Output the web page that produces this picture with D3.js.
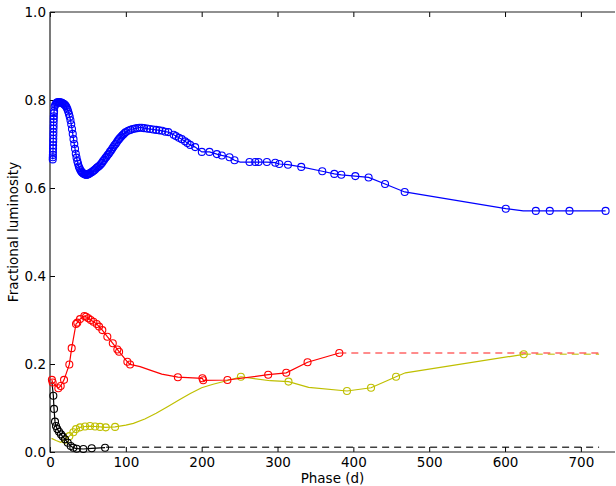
<!DOCTYPE html>
<html><head><meta charset="utf-8">
<script src="https://cdn.jsdelivr.net/npm/d3@7"></script>
<style>
body{margin:0;background:#fff;}
text{font-family:"DejaVu Sans",sans-serif;}
</style></head>
<body><svg id="c" width="616" height="486"></svg>
<script>
// ---- data (phase in days, fractional luminosity)
const bluePhase = [3.6,3.7,3.8,3.9,4.0,4.1,4.2,4.3,4.4,4.5,4.6,4.7,4.8,4.9,5.0,5.2,5.4,6,7,8,9,10,11,12,13,14,15,16,17,18,19,20,21,22,23,24,25,26,27,28,29,30,31,32,33,34,35,36,37,38,39,40,41,42,43,44,45,46,47,48,49,50,51,52,53,55,56.5,58,59.5,61,62.5,64,65.5,67,68.5,70,71.5,73,74.5,76,77.5,79,80.5,82,83.5,85,86.5,88,89.5,91,92.5,94,95.5,97,98.5,100,103,106,109,112,115,118,121,124,128,132,136,140,144,148,152,156,163,166,170,173.8,178,181.2,184.8,191.4,200.2,210.3,220,226.6,236.7,243.3,250.8,263.1,270.6,275,286,297,302.3,313.8,331.3,359,374.9,384.1,402.6,420.1,441.8,467.7,601,624,640.6,659,685,732.6];
const blueValue = [0.665,0.670,0.675,0.682,0.69,0.697,0.705,0.712,0.72,0.727,0.735,0.742,0.75,0.757,0.763,0.770,0.775,0.785,0.789,0.792,0.794,0.795,0.795,0.795,0.795,0.794,0.794,0.793,0.792,0.791,0.790,0.788,0.786,0.783,0.779,0.774,0.768,0.762,0.754,0.745,0.734,0.723,0.711,0.700,0.689,0.678,0.669,0.661,0.655,0.649,0.645,0.641,0.638,0.636,0.634,0.633,0.632,0.631,0.630,0.630,0.630,0.631,0.632,0.633,0.634,0.636,0.638,0.640,0.642,0.645,0.647,0.649,0.651,0.654,0.657,0.661,0.664,0.668,0.671,0.675,0.678,0.682,0.685,0.689,0.693,0.697,0.700,0.704,0.708,0.711,0.714,0.717,0.720,0.722,0.725,0.727,0.730,0.732,0.734,0.735,0.736,0.737,0.737,0.736,0.735,0.734,0.733,0.732,0.731,0.730,0.728,0.727,0.721,0.718,0.714,0.711,0.706,0.702,0.698,0.693,0.682,0.682,0.677,0.674,0.670,0.663,0.659,0.659,0.659,0.659,0.659,0.6575,0.6545,0.653,0.648,0.638,0.632,0.630,0.627,0.624,0.609,0.591,0.553,0.548,0.548,0.548,0.548,0.548];
const blueMarked = bluePhase.map(p => (p === 250.8 || p === 624) ? 0 : 1);

const redPhase = [2.5,3.5,11,14.1,18.5,25.5,28.6,34.3,36,39.6,45.3,47.5,50.6,53.7,57.2,61.6,64.7,69,75.6,82.8,88.8,91.1,102,105.6,118.8,132,147.4,168.6,201,202,234,287.7,311.5,339.6,381.5];
const redValue = [0.164,0.158,0.145,0.150,0.164,0.199,0.236,0.291,0.294,0.302,0.309,0.3075,0.304,0.300,0.296,0.291,0.285,0.277,0.262,0.247,0.233,0.228,0.205,0.199,0.194,0.186,0.177,0.170,0.1675,0.163,0.1636,0.1757,0.180,0.204,0.225];
const redMarked = redPhase.map(p => (p === 118.8 || p === 132 || p === 147.4) ? 0 : 1);

const yellowPhase = [2,8,14,20,25.5,30.8,34.3,39.6,46.2,52.8,59.4,66,73.5,85.8,100,110,125,140,155,170,185,200,215,233,251.7,290.4,314.5,341,391.6,423.3,456.3,468.6,624.7];
const yellowValue = [0.031,0.026,0.022,0.028,0.036,0.045,0.052,0.056,0.058,0.059,0.058,0.057,0.056,0.057,0.061,0.065,0.075,0.088,0.103,0.118,0.133,0.146,0.154,0.162,0.171,0.162,0.160,0.147,0.1386,0.146,0.171,0.180,0.222];
const yellowMarked = [0,0,0,1,1,1,1,1,1,1,1,1,1,1,0,0,0,0,0,0,0,0,0,0,1,0,1,0,1,1,1,0,1];

const blackPhase = [2.5,4.4,5.3,6.6,7.9,9.6,11.9,14.5,16.8,19.8,23.4,27.3,30.8,35.2,44,55,72.6];
const blackValue = [0.160,0.128,0.098,0.069,0.059,0.052,0.046,0.040,0.035,0.029,0.021,0.0136,0.0098,0.0075,0.0068,0.0084,0.0098];
const blackMarked = [0,1,1,1,1,1,1,1,1,1,1,1,1,1,1,1,1];

// dashed extrapolations
const redTailPhase = [381.5, 724];   const redTailValue = [0.225, 0.225];
const yellowTailPhase = [624.7, 724]; const yellowTailValue = [0.222, 0.222];
const blackTailPhase = [74, 724];    const blackTailValue = [0.0107, 0.0107];

const xTicks = [0,100,200,300,400,500,600,700];
const yTicks = [0,0.2,0.4,0.6,0.8,1.0];
const xLabel = "Phase (d)";
const yLabel = "Fractional luminosity";

// ---- drawing
const svg = d3.select("#c");
const L = 50, R = 615, T = 12, B = 452;
const x = d3.scaleLinear().domain([0,745]).range([L,R]);
const y = d3.scaleLinear().domain([0,1]).range([B,T]);
const fs = "13.5px";

const gx = svg.append("g").attr("transform",`translate(0,${B})`)
  .call(d3.axisBottom(x).tickValues(xTicks).tickFormat(d3.format("d")).tickSizeInner(-5).tickSizeOuter(0).tickPadding(5));
const gxt = svg.append("g").attr("transform",`translate(0,${T})`)
  .call(d3.axisTop(x).tickValues(xTicks).tickFormat("").tickSizeInner(-5).tickSizeOuter(0));
const gy = svg.append("g").attr("transform",`translate(${L},0)`)
  .call(d3.axisLeft(y).tickValues(yTicks).tickFormat(d3.format(".1f")).tickSizeInner(-5).tickSizeOuter(0).tickPadding(4));
[gx,gxt,gy].forEach(g=>{
  g.select(".domain").remove();
  g.selectAll(".tick line").attr("stroke","#000").attr("stroke-width",1);
  g.selectAll(".tick text").attr("fill","#000").style("font-size",fs).style("font-family","DejaVu Sans");
});
svg.append("path").attr("d",`M${L},${T}H${R}`).attr("stroke","#222").attr("stroke-width",1.2).attr("fill","none");
svg.append("path").attr("d",`M${L},${T}V${B}H${R}`).attr("stroke","#222").attr("stroke-width",1.2).attr("fill","none");

svg.append("text").attr("x",(L+R)/2).attr("y",483).attr("text-anchor","middle").style("font-size",fs).text(xLabel);
svg.append("text").attr("transform",`translate(18,${(T+B)/2}) rotate(-90)`).attr("text-anchor","middle").style("font-size",fs).text(yLabel);

const plot = svg.append("g");
const line = d3.line().x(d=>x(d[0])).y(d=>y(d[1]));
function series(ph, val, mk, color){
  const pts = ph.map((p,i)=>[p,val[i],mk[i]]);
  plot.append("path").datum(pts).attr("d",line).attr("fill","none").attr("stroke",color).attr("stroke-width",1.2);
  plot.selectAll(null).data(pts.filter(d=>d[2])).enter().append("circle")
    .attr("cx",d=>x(d[0])).attr("cy",d=>y(d[1])).attr("r",3.5)
    .attr("fill","none").attr("stroke",color).attr("stroke-width",1.1);
}
function tail(ph, val, color, op){
  plot.append("path").datum(ph.map((p,i)=>[p,val[i]])).attr("d",line).attr("fill","none")
    .attr("stroke",color).attr("stroke-opacity",op).attr("stroke-width",1.5).attr("stroke-dasharray","7,5");
}
tail(blackTailPhase, blackTailValue, "#000", 0.75);
tail(yellowTailPhase, yellowTailValue, "#bfbf00", 0.7);
tail(redTailPhase, redTailValue, "#ff0000", 0.6);
series(yellowPhase, yellowValue, yellowMarked, "#bfbf00");
series(blackPhase, blackValue, blackMarked, "#000");
series(redPhase, redValue, redMarked, "#ff0000");
series(bluePhase, blueValue, blueMarked, "#0000ff");
</script></body></html>
